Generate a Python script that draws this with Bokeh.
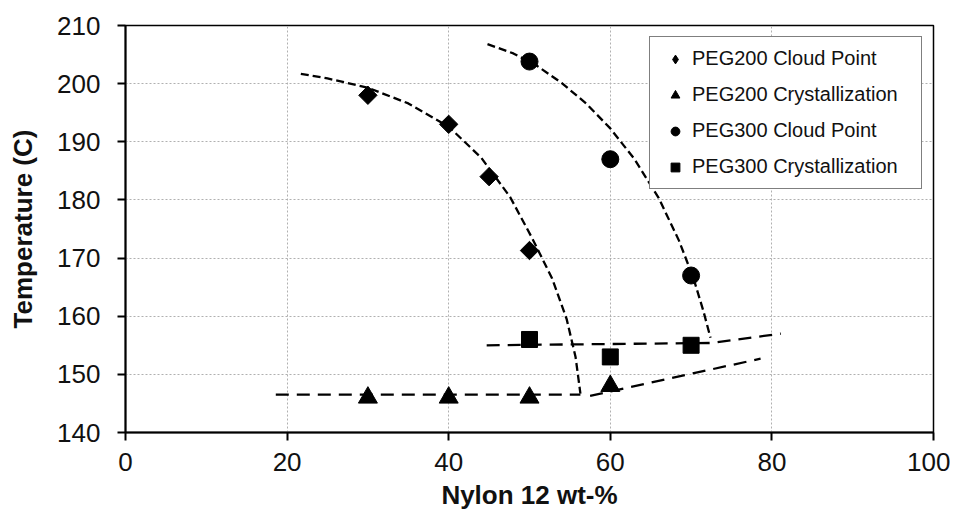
import math
from bokeh.plotting import figure
from bokeh.models import Range1d, Legend, LegendItem, FixedTicker
from bokeh.embed import file_html
from bokeh.resources import INLINE

# ---- data ----
peg200_cloud_x = [30, 40, 45, 50]
peg200_cloud_y = [198, 193, 184, 171.3]
peg200_cryst_x = [30, 40, 50, 60]
peg200_cryst_y = [146, 146, 146, 148]
peg300_cloud_x = [50, 60, 70]
peg300_cloud_y = [203.8, 187, 167]
peg300_cryst_x = [50, 60, 70]
peg300_cryst_y = [156, 153, 155]

# hand-drawn trend lines
peg200_cloud_fit_x = [21.7, 25, 30, 35, 40, 44, 47.6, 50.3, 52.8, 54.6, 55.7, 56.3]
peg200_cloud_fit_y = [201.7, 200.9, 199.3, 196.6, 192.6, 187.3, 180.5, 173.5, 166.5, 159.5, 153.0, 146.7]
peg300_cloud_fit_x = [44.8, 48, 51, 54, 57, 60, 63, 66, 68.5, 70.3, 71.5, 72.4]
peg300_cloud_fit_y = [206.8, 205.2, 203.0, 200.1, 196.6, 192.3, 187.0, 180.3, 173.0, 166.5, 161.0, 156.3]
peg200_cryst_fit1_x = [18.6, 56.3]
peg200_cryst_fit1_y = [146.5, 146.5]
peg200_cryst_fit2_x = [57.5, 78.6]
peg200_cryst_fit2_y = [146.3, 152.7]
peg300_cryst_fit_x = [44.7, 72.5, 81.1]
peg300_cryst_fit_y = [155.0, 155.4, 157.0]

x_ticks = [0, 20, 40, 60, 80, 100]
y_ticks = [140, 150, 160, 170, 180, 190, 200, 210]
labels = ["PEG200 Cloud Point", "PEG200 Crystallization",
          "PEG300 Cloud Point", "PEG300 Crystallization"]

FONT = "Liberation Sans"

p = figure(width=950, height=528, output_backend="svg", toolbar_location=None,
           x_range=Range1d(0, 100), y_range=Range1d(140, 210),
           min_border_left=125, min_border_right=17,
           min_border_top=25, min_border_bottom=96)

p.background_fill_color = "white"
p.border_fill_color = "white"
p.outline_line_color = "black"
p.outline_line_width = 1.5

# grid
p.grid.grid_line_color = "#b0b0b0"
p.grid.grid_line_dash = "2 2"
p.grid.grid_line_width = 1

# axes
p.xaxis.ticker = FixedTicker(ticks=x_ticks)
p.yaxis.ticker = FixedTicker(ticks=y_ticks)
for ax in (p.xaxis[0], p.yaxis[0]):
    ax.axis_line_width = 2
    ax.axis_line_color = "black"
    ax.major_tick_line_width = 2
    ax.major_tick_line_color = "black"
    ax.major_tick_out = 8
    ax.major_tick_in = 0
    ax.minor_tick_out = 0
    ax.minor_tick_in = 0
    ax.major_label_text_font = FONT
    ax.major_label_text_font_size = "26px"
    ax.major_label_text_color = "#111111"
    ax.axis_label_text_font = FONT
    ax.axis_label_text_font_size = "26px"
    ax.axis_label_text_font_style = "bold"
    ax.axis_label_text_color = "#111111"
p.xaxis.axis_label = "Nylon 12 wt-%"
p.yaxis.axis_label = "Temperature (C)"
p.xaxis.major_label_standoff = 12
p.xaxis.axis_label_standoff = 6
p.yaxis.major_label_standoff = 17
p.yaxis.axis_label_standoff = 16

# trend lines
p.line(peg200_cloud_fit_x, peg200_cloud_fit_y, line_color="black", line_width=2.3, line_dash="8 4")
p.line(peg300_cloud_fit_x, peg300_cloud_fit_y, line_color="black", line_width=2.3, line_dash="8 4")
p.line(peg200_cryst_fit1_x, peg200_cryst_fit1_y, line_color="black", line_width=2.3, line_dash="13 8")
p.line(peg200_cryst_fit2_x, peg200_cryst_fit2_y, line_color="black", line_width=2.3, line_dash="13 8")
p.line(peg300_cryst_fit_x, peg300_cryst_fit_y, line_color="black", line_width=2.3, line_dash="13 8")

# markers
r1 = p.scatter(peg200_cloud_x, peg200_cloud_y, marker="square", size=13, angle=math.pi / 4,
               fill_color="black", line_color="black")
r2 = p.scatter(peg200_cryst_x, peg200_cryst_y, marker="triangle", size=19,
               fill_color="black", line_color="black")
r3 = p.scatter(peg300_cloud_x, peg300_cloud_y, marker="circle", size=17,
               fill_color="black", line_color="black")
r4 = p.scatter(peg300_cryst_x, peg300_cryst_y, marker="square", size=16,
               fill_color="black", line_color="black")
# legend-only glyph for the diamond (legend ignores marker angle)
r1_leg = p.scatter([float("nan")], [float("nan")], marker="diamond", size=13,
                   fill_color="black", line_color="black")

legend = Legend(items=[LegendItem(label=labels[0], renderers=[r1_leg]),
                       LegendItem(label=labels[1], renderers=[r2]),
                       LegendItem(label=labels[2], renderers=[r3]),
                       LegendItem(label=labels[3], renderers=[r4])],
                location="top_right", margin=11, padding=10, spacing=13,
                glyph_width=30, glyph_height=22, label_height=22, label_standoff=2,
                label_width=219,
                label_text_font=FONT, label_text_font_size="20px",
                label_text_color="#111111",
                border_line_color="black", border_line_width=1.5,
                background_fill_color="white", background_fill_alpha=1.0)
p.add_layout(legend)

open("out.html", "w").write(file_html(p, INLINE))
